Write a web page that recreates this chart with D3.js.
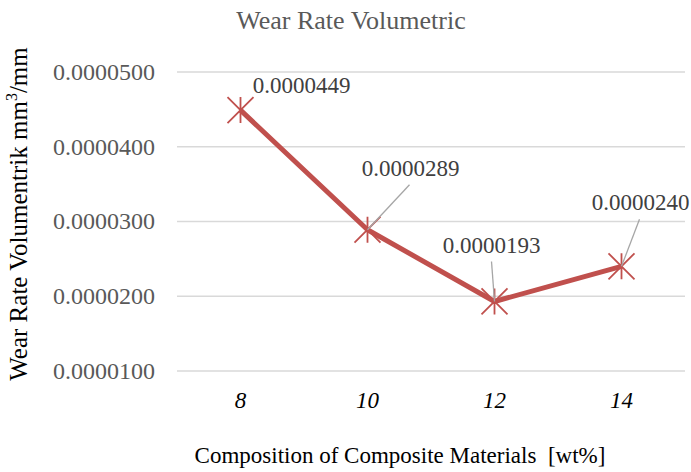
<!DOCTYPE html>
<html>
<head>
<meta charset="utf-8">
<script src="https://cdn.jsdelivr.net/npm/d3@7"></script>
<style>
    body { margin: 0; background: #fff; }
</style>
</head>
<body>
<div id="chart"></div>
<script>

// Data.
let categories = ["8", "10", "12", "14"];
let wearRates  = [0.0000449, 0.0000289, 0.0000193, 0.0000240];
let yTicks     = [0.00001, 0.00002, 0.00003, 0.00004, 0.00005];
let labels     = ["0.0000449", "0.0000289", "0.0000193", "0.0000240"];

let serif = "'Liberation Serif', 'Times New Roman', Tinos, 'DejaVu Serif', serif";

let width = 691, height = 472;
let margin = {top: 72, right: 6, bottom: 101, left: 177};
let xwidth = width - margin.left - margin.right;
let yheight = height - margin.top - margin.bottom;

let svg = d3.select("#chart")
    .append("svg")
        .attr("width", width)
        .attr("height", height)
        .style("font-family", serif);

let g = svg.append("g")
    .attr("transform", "translate(" + margin.left + "," + margin.top + ")");

let x = d3.scaleBand()
    .domain(categories)
    .range([0, xwidth]);

let y = d3.scaleLinear()
    .domain([0.00001, 0.00005])
    .range([yheight, 0]);

// Gridlines
g.append("g")
    .selectAll("line")
    .data(yTicks)
    .enter().append("line")
        .attr("x1", 0).attr("x2", xwidth)
        .attr("y1", d => y(d)).attr("y2", d => y(d))
        .attr("stroke", "#d9d9d9")
        .attr("stroke-width", 1.5);

// Y axis labels
g.append("g")
    .selectAll("text")
    .data(yTicks)
    .enter().append("text")
        .attr("x", -22)
        .attr("y", d => y(d))
        .attr("dy", "0.33em")
        .attr("text-anchor", "end")
        .attr("font-size", 24)
        .attr("fill", "#595959")
        .text(d => d.toFixed(7));

// X axis labels
g.append("g")
    .selectAll("text")
    .data(categories)
    .enter().append("text")
        .attr("x", d => x(d) + x.bandwidth() / 2)
        .attr("y", yheight + 37)
        .attr("text-anchor", "middle")
        .attr("font-size", 23)
        .attr("font-style", "italic")
        .attr("fill", "#000")
        .text(d => d);

let points = categories.map((c, i) => ({cat: c, value: wearRates[i], label: labels[i]}));

// Line
let line = d3.line()
    .x(d => x(d.cat) + x.bandwidth() / 2)
    .y(d => y(d.value));

g.append("path")
    .datum(points)
    .attr("d", line)
    .attr("fill", "none")
    .attr("stroke", "#c0504d")
    .attr("stroke-width", 5)
    .attr("stroke-linejoin", "round");

// Star markers (X plus vertical stroke)
let s = 13;
g.append("g")
    .selectAll("path")
    .data(points)
    .enter().append("path")
        .attr("transform", d => "translate(" + (x(d.cat) + x.bandwidth() / 2) + "," + y(d.value) + ")")
        .attr("d", "M" + (-s) + "," + (-s) + "L" + s + "," + s +
                   "M" + (-s) + "," + s + "L" + s + "," + (-s) +
                   "M0," + (-s) + "L0," + s)
        .attr("stroke", "#c0504d")
        .attr("stroke-width", 1.8)
        .attr("fill", "none");

// Data labels with leader lines (offsets from the point)
let labelOffsets = [
    {dx: 61, dy: -25, lead: null},
    {dx: 43, dy: -61, lead: [42, -45]},
    {dx: -3, dy: -56, lead: [-3, -40]},
    {dx: 19, dy: -64, lead: [18, -47]}
];

points.forEach((d, i) => {
    let px = x(d.cat) + x.bandwidth() / 2;
    let py = y(d.value);
    let o = labelOffsets[i];
    if (o.lead) {
        g.append("line")
            .attr("x1", px).attr("y1", py)
            .attr("x2", px + o.lead[0]).attr("y2", py + o.lead[1])
            .attr("stroke", "#a6a6a6")
            .attr("stroke-width", 1.3);
    }
    g.append("text")
        .attr("x", px + o.dx)
        .attr("y", py + o.dy)
        .attr("dy", "0.33em")
        .attr("text-anchor", "middle")
        .attr("font-size", 23)
        .attr("fill", "#404040")
        .text(d.label);
});

// Title
svg.append("text")
    .attr("x", 351)
    .attr("y", 29)
    .attr("text-anchor", "middle")
    .attr("font-size", 26)
    .attr("fill", "#595959")
    .text("Wear Rate Volumetric");

// Y axis title
let yt = svg.append("text")
    .attr("transform", "translate(27," + 214 + ") rotate(-90)")
    .attr("text-anchor", "middle")
    .attr("font-size", 25)
    .attr("fill", "#000");
yt.append("tspan").text("Wear Rate Volumentrik mm");
yt.append("tspan").attr("font-size", 16).attr("dy", -10).text("3");
yt.append("tspan").attr("dy", 10).text("/mm");

// X axis title
svg.append("text")
    .attr("x", 400)
    .attr("y", 463)
    .attr("text-anchor", "middle")
    .attr("font-size", 23)
    .attr("fill", "#000")
    .attr("xml:space", "preserve")
    .text("Composition of Composite Materials  [wt%]");

</script>
</body>
</html>
